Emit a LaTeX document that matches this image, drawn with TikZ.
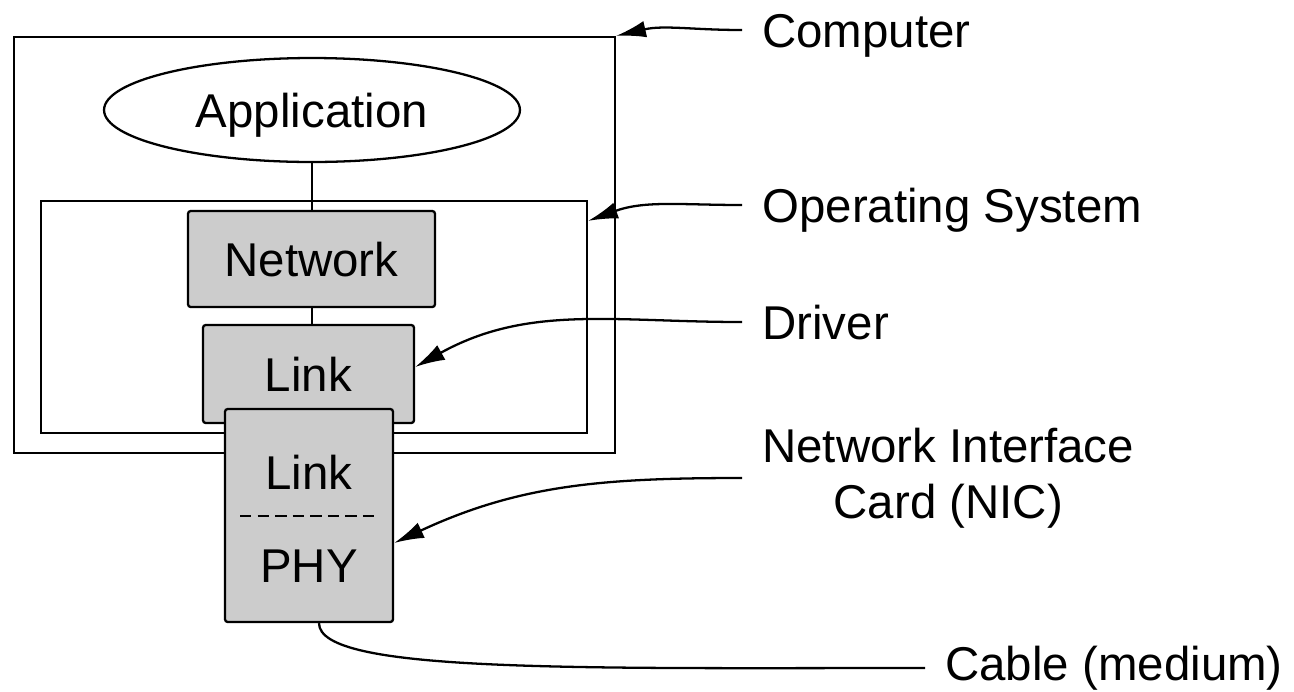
\documentclass[tikz,border=0pt]{standalone}
\usepackage{fontspec}
\setmainfont{Liberation Sans}
\usetikzlibrary{shapes.geometric,arrows.meta}
\definecolor{boxgray}{HTML}{CCCCCC}
\newcommand{\labfont}{\fontsize{27}{31.7}\selectfont}
\tikzset{
	frame/.style={draw, line width=1.3pt, inner sep=0pt},
	layer/.style={draw, line width=1.3pt, fill=boxgray, rounded corners=1.5pt, inner sep=0pt, font=\labfont, text height=19.5pt, text depth=0pt},
	tag/.style={anchor=west, inner xsep=0.4cm, inner ysep=0pt, font=\labfont, text height=19.5pt, text depth=0pt},
	ptr/.style={line width=1.3pt, -{Latex[length=17pt,width=9.5pt]}},
}
\begin{document}
\begin{tikzpicture}[x=0.02cm,y=-0.02cm]
	\useasboundingbox (0,0) rectangle (1294,691);
	
	%Rechner und Betriebssystem
	\node[frame, minimum width=12.02cm, minimum height=8.32cm] (computer) at (314.5,245) {};
	\node[draw, ellipse, line width=1.3pt, inner sep=0pt, minimum width=8.32cm, minimum height=2.08cm, font=\labfont, text height=19.5pt, text depth=0pt] (app) at (312,110) {Application};
	\node[frame, minimum width=10.92cm, minimum height=4.64cm] (os) at (314,317) {};
	
	%Schichten
	\node[layer, minimum width=4.94cm, minimum height=1.92cm] (net) at (311.5,259) {Network};
	\node[layer, minimum width=4.22cm, minimum height=1.96cm] (link) at (308.5,374) {Link};
	\draw[line width=1.3pt] (app.south) -- (app.south |- net.north);
	\draw[line width=1.3pt] (app.south |- net.south) -- (app.south |- link.north);
	
	%Netzwerkkarte
	\node[layer, minimum width=3.36cm, minimum height=4.26cm] (nic) at (309,515.5) {};
	\node[font=\labfont, inner sep=0pt, text height=19.5pt, text depth=0pt] (niclink) at (309,472) {Link};
	\node[font=\labfont, inner sep=0pt, text height=19.5pt, text depth=0pt] (nicphy) at (309,565) {PHY};
	\draw[line width=1.1pt, dash pattern=on 6.5pt off 3.5pt] (240,516) -- (380,516);
	
	%Beschriftung
	\node[tag] (lcomp) at (742,30) {Computer};
	\node[tag] (los) at (742,205) {Operating System};
	\node[tag] (ldrv) at (742,322) {Driver};
	\node[tag, align=center, text height=, text depth=] (lnic) at (742,478) {Network Interface\\Card (NIC)};
	\node[tag] (lcable) at (925,663) {Cable (medium)};
	
	\draw[ptr] (lcomp.west) to[out=180, in=13] (computer.north east);
	\draw[ptr] (los.west) to[out=180, in=20] ([yshift=-0.42cm]os.north east);
	\draw[ptr] (ldrv.west) to[out=180, in=29] ([yshift=0.14cm]link.east);
	\draw[ptr] (lnic.west) to[out=180, in=25] ([yshift=-0.55cm]nic.east);
	\draw[line width=1.3pt] ([xshift=0.2cm]nic.south) .. controls +(0,50) and +(-350,0) .. ([yshift=-0.1cm]lcable.west);%Kabel
\end{tikzpicture}
\end{document}
